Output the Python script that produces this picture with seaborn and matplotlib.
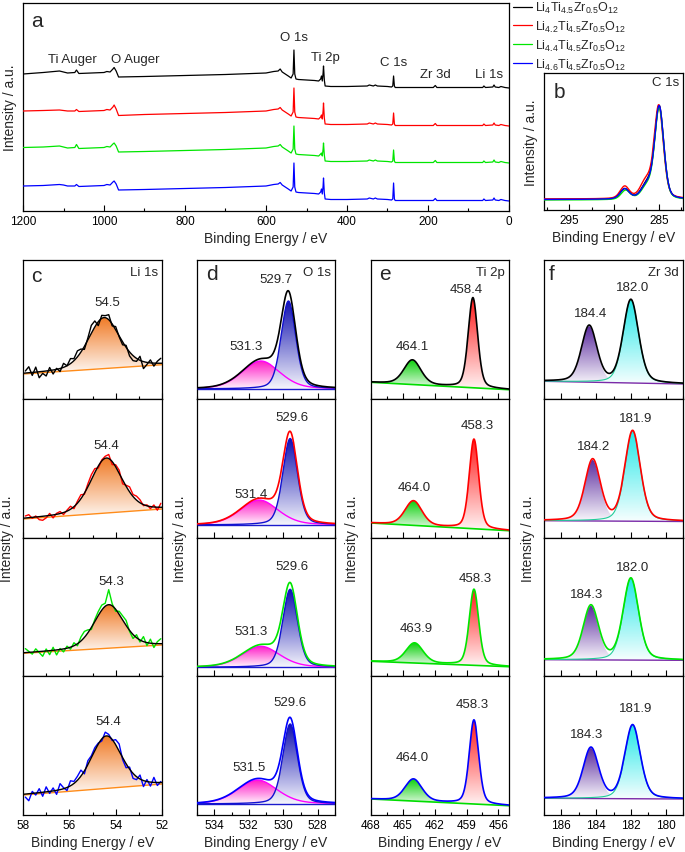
import numpy as np
import matplotlib
matplotlib.use('Agg')
import matplotlib.pyplot as plt
import seaborn as sns
from matplotlib.colors import LinearSegmentedColormap, to_rgb
from matplotlib.ticker import MultipleLocator, NullFormatter

# ---------------------------------------------------------------- data
samples = [r'Li$_{4}$Ti$_{4.5}$Zr$_{0.5}$O$_{12}$',
           r'Li$_{4.2}$Ti$_{4.5}$Zr$_{0.5}$O$_{12}$',
           r'Li$_{4.4}$Ti$_{4.5}$Zr$_{0.5}$O$_{12}$',
           r'Li$_{4.6}$Ti$_{4.5}$Zr$_{0.5}$O$_{12}$']

# (a) survey spectra: binding energy and intensity above each trace's own baseline
survey_energy = [1200, 1150, 1110, 1100, 1090, 1072, 1068, 1062, 1000, 993,
                 985, 978, 975, 970, 964, 900, 800, 700, 600, 581,
                 570, 565, 560, 545, 538, 533, 531, 529, 526, 520,
                 480, 470, 465, 463, 461, 459, 458, 456, 454, 440,
                 400, 350, 345, 335, 330, 325, 300, 290, 287, 285,
                 283, 281, 250, 200, 187, 182, 178, 100, 65, 62,
                 58, 40, 37, 34, 25, 20, 10, 0]
survey_black = [14, 15.5, 17, 16, 15, 15.5, 18, 14.5, 15.5, 16.5,
                16, 19, 20.5, 17, 11, 11.5, 12.5, 13.5, 15, 16.5,
                17, 19, 16, 12, 10, 14, 38, 14, 9, 8.5,
                7.5, 7, 9, 12, 7, 15, 22, 8, 2, 1.5,
                1.5, 2, 3, 2, 3, 2, 1.5, 1, 2, 12,
                2, 0.5, 0.5, 0.5, 0.5, 2.5, 0.5, 0.5, 0.5, 2,
                0.5, 1, 3, 1, 0.5, 1.5, 0.5, 0]
survey_red = [15, 15.5, 16, 15.5, 15, 15, 16.5, 14.5, 15.5, 16.5,
              16, 19, 21, 17, 10.5, 11.5, 12.5, 13.5, 15, 16.5,
              17, 18.5, 16, 12, 10, 14, 38, 14, 9, 8.5,
              7.5, 7, 9, 11, 7, 15, 23, 8, 2, 1.5,
              1.5, 2, 3, 2, 3, 2, 1.5, 1, 2, 13,
              2, 0.5, 0.5, 0.5, 0.5, 2.5, 0.5, 0.5, 0.5, 2,
              0.5, 1, 3, 1, 0.5, 1.5, 0.5, 0]
survey_green = [15.5, 16, 17, 16, 15, 15.5, 18.5, 14.5, 15.5, 16.5,
                16, 19, 20, 17, 11, 11.5, 12.5, 13.5, 15, 16.5,
                17, 18.5, 16, 12, 10, 14, 37, 14, 9, 8.5,
                7.5, 7, 9, 10, 7, 14, 20, 8, 2, 1.5,
                1.5, 2, 3, 2, 3, 2, 1.5, 1, 2, 13,
                2, 0.5, 0.5, 0.5, 0.5, 2.5, 0.5, 0.5, 0.5, 2,
                0.5, 1, 3, 1, 0.5, 1.5, 0.5, 0]
survey_blue = [15, 15.5, 16.5, 16, 15, 15, 16.5, 14.5, 15.5, 16.5,
               16, 19, 20, 17, 11, 11.5, 12.5, 13.5, 15, 16.5,
               17, 18.5, 16, 12, 10, 14, 38, 14, 9, 8.5,
               7.5, 7, 9, 12, 7, 15, 23, 8, 2, 1.5,
               1.5, 2, 3, 2, 3, 2, 1.5, 1, 2, 18,
               2, 0.5, 0.5, 0.5, 0.5, 2.5, 0.5, 0.5, 0.5, 2,
               0.5, 1, 3, 1, 0.5, 1.5, 0.5, 0]
survey_peaks = ['Ti Auger', 'O Auger', 'O 1s', 'Ti 2p', 'C 1s', 'Zr 3d', 'Li 1s']
survey_peak_energy = [1077, 923, 532, 454, 284, 181, 48]

# (b) C 1s components (center / height above baseline)
c1s_main_center = [284.95, 285.0, 284.95, 284.95]
c1s_main_height = [92, 92, 91, 92]
c1s_shoulder_center = [286.3, 286.4, 286.3, 286.3]
c1s_shoulder_height = [14, 17, 12, 13]
c1s_carb_center = [288.8, 288.8, 288.7, 288.8]
c1s_carb_height = [10, 12, 9, 10]
c1s_baseline = [10.5, 11, 10, 10.5]

# (c) Li 1s
li_center = [54.5, 54.4, 54.3, 54.4]
li_amp = [51, 55, 43.5, 52.5]
li_fwhm = [1.6, 1.6, 1.5, 1.55]
li_bl_left = [25, 18.5, 23, 20]
li_bl_right = [34.3, 28.5, 31.3, 31]
li_raw_energy = [57.9, 57.75, 57.6, 57.45, 57.3, 57.15, 57.0, 56.85, 56.7, 56.55,
                 56.4, 56.25, 56.1, 55.95, 55.8, 55.65, 55.5, 55.35, 55.2, 55.05,
                 54.9, 54.75, 54.6, 54.45, 54.3, 54.15, 54.0, 53.85, 53.7, 53.55,
                 53.4, 53.25, 53.1, 52.95, 52.8, 52.65, 52.5, 52.35, 52.2, 52.05]
li_resid = [
    [2, 6, -3, 5, -6, -2, -5, 3, -4, 1, -3, 4, 0, 5, 2, 6, 3, -3, 2, 8,
     6, -4, 3, 2, 5, -2, 3, -1, -3, 2, -4, -5, -3, 4, -7, -2, 3, -3, 2, 5],
    [2, 3, -1, 1, -3, -4, -2, 2, -3, 1, 2, -2, 1, 3, -2, 2, 4, -1, 3, 5,
     4, -2, 1, 2, 4, -3, 2, 3, -4, 1, 5, 2, 4, 3, -1, 1, -2, 2, -3, 4],
    [4, 1, -2, 3, -1, -5, 2, -4, 3, -5, 1, -3, 2, -2, 3, -2, 4, 6, 3, -2,
     2, 4, 5, 3, 15, 2, -2, 3, 4, 5, -1, -4, 3, -2, 5, -3, 4, -4, 2, 5],
    [-3, -7, 2, -2, 4, -4, 5, -2, 3, -4, 6, 1, -3, 5, 2, 4, 6, -3, 4, 2,
     3, 1, -2, 4, 2, -1, 5, 7, -2, -4, 2, -5, -3, 4, -6, 2, -4, 5, -3, 1]]
li_labels = ['54.5', '54.4', '54.3', '54.4']
li_label_pos = [(54.36, 97.3), (54.39, 92), (54.17, 95.6), (54.34, 94.3)]

# (d) O 1s
o_lat_center = [529.7, 529.6, 529.6, 529.6]
o_lat_amp = [88, 86.5, 78, 80]
o_lat_fwhm = [1.0, 1.0, 1.0, 1.0]
o_ads_center = [531.3, 531.4, 531.3, 531.5]
o_ads_amp = [28, 25, 21, 24]
o_ads_fwhm = [2.6, 2.6, 2.6, 2.7]
o_bl = [10, 12.5, 9, 11]
o_labels = [('529.7', '531.3'), ('529.6', '531.4'), ('529.6', '531.3'), ('529.6', '531.5')]
o_label_pos = [((530.45, 120), (532.17, 53)), ((529.49, 120.2), (531.84, 43.5)),
               ((529.49, 110), (531.86, 45.6)), ((529.6, 112.7), (532.0, 48.3))]

# (e) Ti 2p
ti32_center = [458.4, 458.3, 458.3, 458.3]
ti32_amp = [90, 89.5, 76, 84]
ti12_center = [464.1, 464.0, 463.9, 464.0]
ti12_amp = [24.5, 24.5, 20, 22]
ti_bl_left = [16.7, 14.5, 15, 16]
ti_bl_right = [9.3, 6.8, 9.6, 9.3]
ti_labels = [('458.4', '464.1'), ('458.3', '464.0'), ('458.3', '463.9'), ('458.3', '464.0')]
ti_label_pos = [((459.07, 110), (464.07, 53.3)), ((457.97, 112.5), (463.94, 50.2)),
                ((458.22, 98), (463.78, 48)), ((458.44, 111), (464.1, 57.7))]

# (f) Zr 3d
zr52_center = [182.0, 181.9, 182.0, 181.9]
zr52_amp = [83, 90, 81.5, 73.5]
zr32_center = [184.4, 184.2, 184.3, 184.3]
zr32_amp = [56, 61, 54, 50.5]
zr_bl_left = [17.7, 16.8, 16.6, 16.7]
zr_bl_right = [15, 16, 16, 16]
zr_labels = [('182.0', '184.4'), ('181.9', '184.2'), ('182.0', '184.3'), ('181.9', '184.3')]
zr_label_pos = [((181.93, 111.7), (184.34, 86)), ((181.74, 119.5), (184.15, 91.2)),
                ((181.93, 109), (184.53, 82.3)), ((181.74, 106.7), (184.53, 81))]

# ---------------------------------------------------------------- style
sns.set_theme(style='ticks')
plt.rcParams['font.family'] = ['Liberation Sans', 'DejaVu Sans']
plt.rcParams['mathtext.fontset'] = 'custom'
plt.rcParams['mathtext.rm'] = 'Liberation Sans'
plt.rcParams['mathtext.it'] = 'Liberation Sans:italic'
plt.rcParams['axes.linewidth'] = 0.9
plt.rcParams['axes.edgecolor'] = 'black'

COLORS = ['black', '#ff0000', '#00e600', '#0000ff']
W, H = 685, 853
fig = plt.figure(figsize=(W / 100, H / 100), dpi=100)
fig.patch.set_facecolor('white')


def add_ax(x0, y0, x1, y1):
    return fig.add_axes([x0 / W, 1 - y1 / H, (x1 - x0) / W, (y1 - y0) / H])


def ftext(x, y, s, **kw):
    fig.text(x / W, 1 - y / H, s, **kw)


def pv(x, c, a, fwhm, eta=0.3):
    u = ((x - c) / fwhm) ** 2
    return a * ((1 - eta) * np.exp(-4 * np.log(2) * u) + eta / (1 + 4 * u))


def line(ax, x, y, color, lw=1.0, z=3, label=None):
    sns.lineplot(x=np.asarray(x), y=np.asarray(y), ax=ax, color=color, lw=lw,
                 sort=False, estimator=None, zorder=z, label=label, legend=False)


def grad_fill(ax, x, lo, hi, color, z=1):
    poly = ax.fill_between(x, lo, hi, facecolor='none', edgecolor='none')
    c = np.array(to_rgb(color))
    low = 0.96 * np.ones(3) + 0.04 * c
    cmap = LinearSegmentedColormap.from_list('g', [low, c])
    grad = np.linspace(0, 1, 256).reshape(-1, 1)
    im = ax.imshow(grad, cmap=cmap, aspect='auto', origin='lower',
                   extent=[x.min(), x.max(), lo.min(), hi.max()], zorder=z,
                   interpolation='bilinear')
    im.set_clip_path(poly.get_paths()[0], transform=ax.transData)


def style_ax(ax, major, minor, labels=True, size=8.5):
    ax.tick_params(axis='x', which='both', direction='in', top=False, bottom=True,
                   labelsize=size, pad=3, colors='black')
    ax.tick_params(axis='x', which='major', length=4, width=0.8)
    ax.tick_params(axis='x', which='minor', length=2.2, width=0.8)
    ax.tick_params(axis='y', left=False, right=False, labelleft=False)
    ax.xaxis.set_major_locator(MultipleLocator(major))
    ax.xaxis.set_minor_locator(MultipleLocator(minor))
    if not labels:
        ax.xaxis.set_major_formatter(NullFormatter())
    ax.set_ylabel('')
    ax.set_xlabel('')
    for s in ax.spines.values():
        s.set_color('black')
        s.set_linewidth(0.9)


# ---------------------------------------------------------------- (a)
ax = add_ax(23, 4, 509, 212)
survey = [survey_black, survey_red, survey_green, survey_blue]
offsets = [123, 85, 48, 10]
for i in range(4):
    line(ax, survey_energy, np.array(survey[i]) + offsets[i], COLORS[i], lw=0.9,
         label=samples[i])
ax.set_xlim(1200, 0)
ax.set_ylim(0, 208)
style_ax(ax, 200, 100, size=8.5)
ax.set_xlabel('Binding Energy / eV', fontsize=10, labelpad=3)
ax.set_ylabel('Intensity / a.u.', fontsize=10, labelpad=4)
label_h = [152, 152, 173.7, 154, 149.5, 137.5, 137.5]
for s, e, h in zip(survey_peaks, survey_peak_energy, label_h):
    ax.text(e, h, s, ha='center', va='center', fontsize=9.5)
handles, labs = ax.get_legend_handles_labels()
fig.legend(handles, labs, loc='upper left', bbox_to_anchor=(513 / W, 1 - 1 / H),
           frameon=False, fontsize=9, handlelength=1.5, handletextpad=0.25,
           labelspacing=0.3, borderpad=0, borderaxespad=0)
ftext(36.7, 21.7, 'a', fontsize=15, ha='center', va='center')

# ---------------------------------------------------------------- (b)
ax = add_ax(544, 74, 683, 211)
xb = np.linspace(282.3, 297.8, 500)
for i in range(4):
    yb = (c1s_baseline[i] + pv(xb, c1s_main_center[i], c1s_main_height[i], 1.2)
          + pv(xb, c1s_shoulder_center[i], c1s_shoulder_height[i], 1.5)
          + pv(xb, c1s_carb_center[i], c1s_carb_height[i], 1.2))
    line(ax, xb, yb, COLORS[i], lw=1.0)
ax.set_xlim(297.8, 282.3)
ax.set_ylim(0, 137)
style_ax(ax, 5, 2.5)
ax.set_xlabel('Binding Energy / eV', fontsize=10, labelpad=3)
ax.set_ylabel('Intensity / a.u.', fontsize=10, labelpad=4)
ftext(559.3, 92.7, 'b', fontsize=15, ha='center', va='center')
ftext(679, 83, 'C 1s', fontsize=9.5, ha='right', va='center')

# ---------------------------------------------------------------- (c)-(f)
cols = [(23, 162), (197, 335), (371, 509), (544, 683)]
rows = [(261, 400), (400, 538.5), (538.5, 677.3), (677.3, 816)]
col_lim = [(58, 52), (535, 527), (468, 455), (187, 179)]
col_ticks = [(2, 1), (2, 1), (3, 1.5), (2, 1)]
col_names = ['Li 1s', 'O 1s', 'Ti 2p', 'Zr 3d']
col_letters = ['c', 'd', 'e', 'f']
ylab_x = [7, 180, 352, 528]
letter_pos = [(36.7, 276.7), (211.7, 275), (385, 275), (551.7, 275)]

for ci, (cx0, cx1) in enumerate(cols):
    hi_e, lo_e = col_lim[ci]
    x = np.linspace(lo_e, hi_e, 700)
    for ri, (ry0, ry1) in enumerate(rows):
        ax = add_ax(cx0, ry0, cx1, ry1)
        col = COLORS[ri]
        if ci == 0:
            bl = li_bl_left[ri] + (58 - x) / 6 * (li_bl_right[ri] - li_bl_left[ri])
            peak = pv(x, li_center[ri], li_amp[ri], li_fwhm[ri])
            grad_fill(ax, x, bl, bl + peak, '#f07a25')
            line(ax, x, bl, '#ff8c1a', lw=1.0, z=2)
            xr = np.array(li_raw_energy)
            blr = li_bl_left[ri] + (58 - xr) / 6 * (li_bl_right[ri] - li_bl_left[ri])
            raw = blr + pv(xr, li_center[ri], li_amp[ri], li_fwhm[ri]) + np.array(li_resid[ri])
            line(ax, xr, raw, col, lw=1.0, z=3)
            line(ax, x, bl + peak, 'black', lw=1.0, z=4)
            (lx, ly) = li_label_pos[ri]
            ax.text(lx, ly, li_labels[ri], ha='center', va='center', fontsize=9.5)
        elif ci == 1:
            bl = np.full_like(x, o_bl[ri])
            p1 = pv(x, o_lat_center[ri], o_lat_amp[ri], o_lat_fwhm[ri])
            p2 = pv(x, o_ads_center[ri], o_ads_amp[ri], o_ads_fwhm[ri])
            grad_fill(ax, x, bl, bl + p2, '#ff1cc8')
            grad_fill(ax, x, bl, bl + p1, '#1010b0', z=1.5)
            line(ax, x, bl, '#1a1acc', lw=1.0, z=2)
            line(ax, x, bl + p2, '#ff00ff', lw=1.0, z=2.5)
            line(ax, x, bl + p1, '#1010d0', lw=1.0, z=2.6)
            line(ax, x, bl + p1 + p2, col, lw=1.2, z=4)
            for s, (lx, ly) in zip(o_labels[ri], o_label_pos[ri]):
                ax.text(lx, ly, s, ha='center', va='center', fontsize=9.5)
        elif ci == 2:
            bl = ti_bl_left[ri] + (468 - x) / 13 * (ti_bl_right[ri] - ti_bl_left[ri])
            p1 = pv(x, ti32_center[ri], ti32_amp[ri], 1.05)
            p2 = pv(x, ti12_center[ri], ti12_amp[ri], 1.9)
            grad_fill(ax, x, bl, bl + p1, '#ff1a1a')
            grad_fill(ax, x, bl, bl + p2, '#10d010')
            line(ax, x, bl, '#00dd00', lw=1.2, z=2)
            line(ax, x, bl + p1 + p2, col, lw=1.2, z=4)
            for s, (lx, ly) in zip(ti_labels[ri], ti_label_pos[ri]):
                ax.text(lx, ly, s, ha='center', va='center', fontsize=9.5)
        else:
            bl = zr_bl_left[ri] + (187 - x) / 8 * (zr_bl_right[ri] - zr_bl_left[ri])
            p1 = pv(x, zr52_center[ri], zr52_amp[ri], 1.05)
            p2 = pv(x, zr32_center[ri], zr32_amp[ri], 1.05)
            grad_fill(ax, x, bl, bl + p2, '#5a2a9e')
            grad_fill(ax, x, bl, bl + p1, '#22e8e8')
            line(ax, x, bl, '#7a2aa8', lw=1.0, z=2)
            line(ax, x, bl + p1, '#22cc99', lw=0.8, z=2.5)
            line(ax, x, bl + p1 + p2, col, lw=1.2, z=4)
            for s, (lx, ly) in zip(zr_labels[ri], zr_label_pos[ri]):
                ax.text(lx, ly, s, ha='center', va='center', fontsize=9.5)
        ax.set_xlim(hi_e, lo_e)
        ax.set_ylim(0, ry1 - ry0)
        style_ax(ax, col_ticks[ci][0], col_ticks[ci][1], labels=(ri == 3))
        if ri == 3:
            ax.set_xlabel('Binding Energy / eV', fontsize=10, labelpad=3)
    ftext(ylab_x[ci], 538.5, 'Intensity / a.u.', fontsize=10, rotation=90,
          ha='center', va='center')
    ftext(letter_pos[ci][0], letter_pos[ci][1], col_letters[ci], fontsize=15,
          ha='center', va='center')
    ftext(cx1 - 4, 273.5, col_names[ci], fontsize=9.5, ha='right', va='center')

fig.savefig('out.png', dpi=100, facecolor='white')
